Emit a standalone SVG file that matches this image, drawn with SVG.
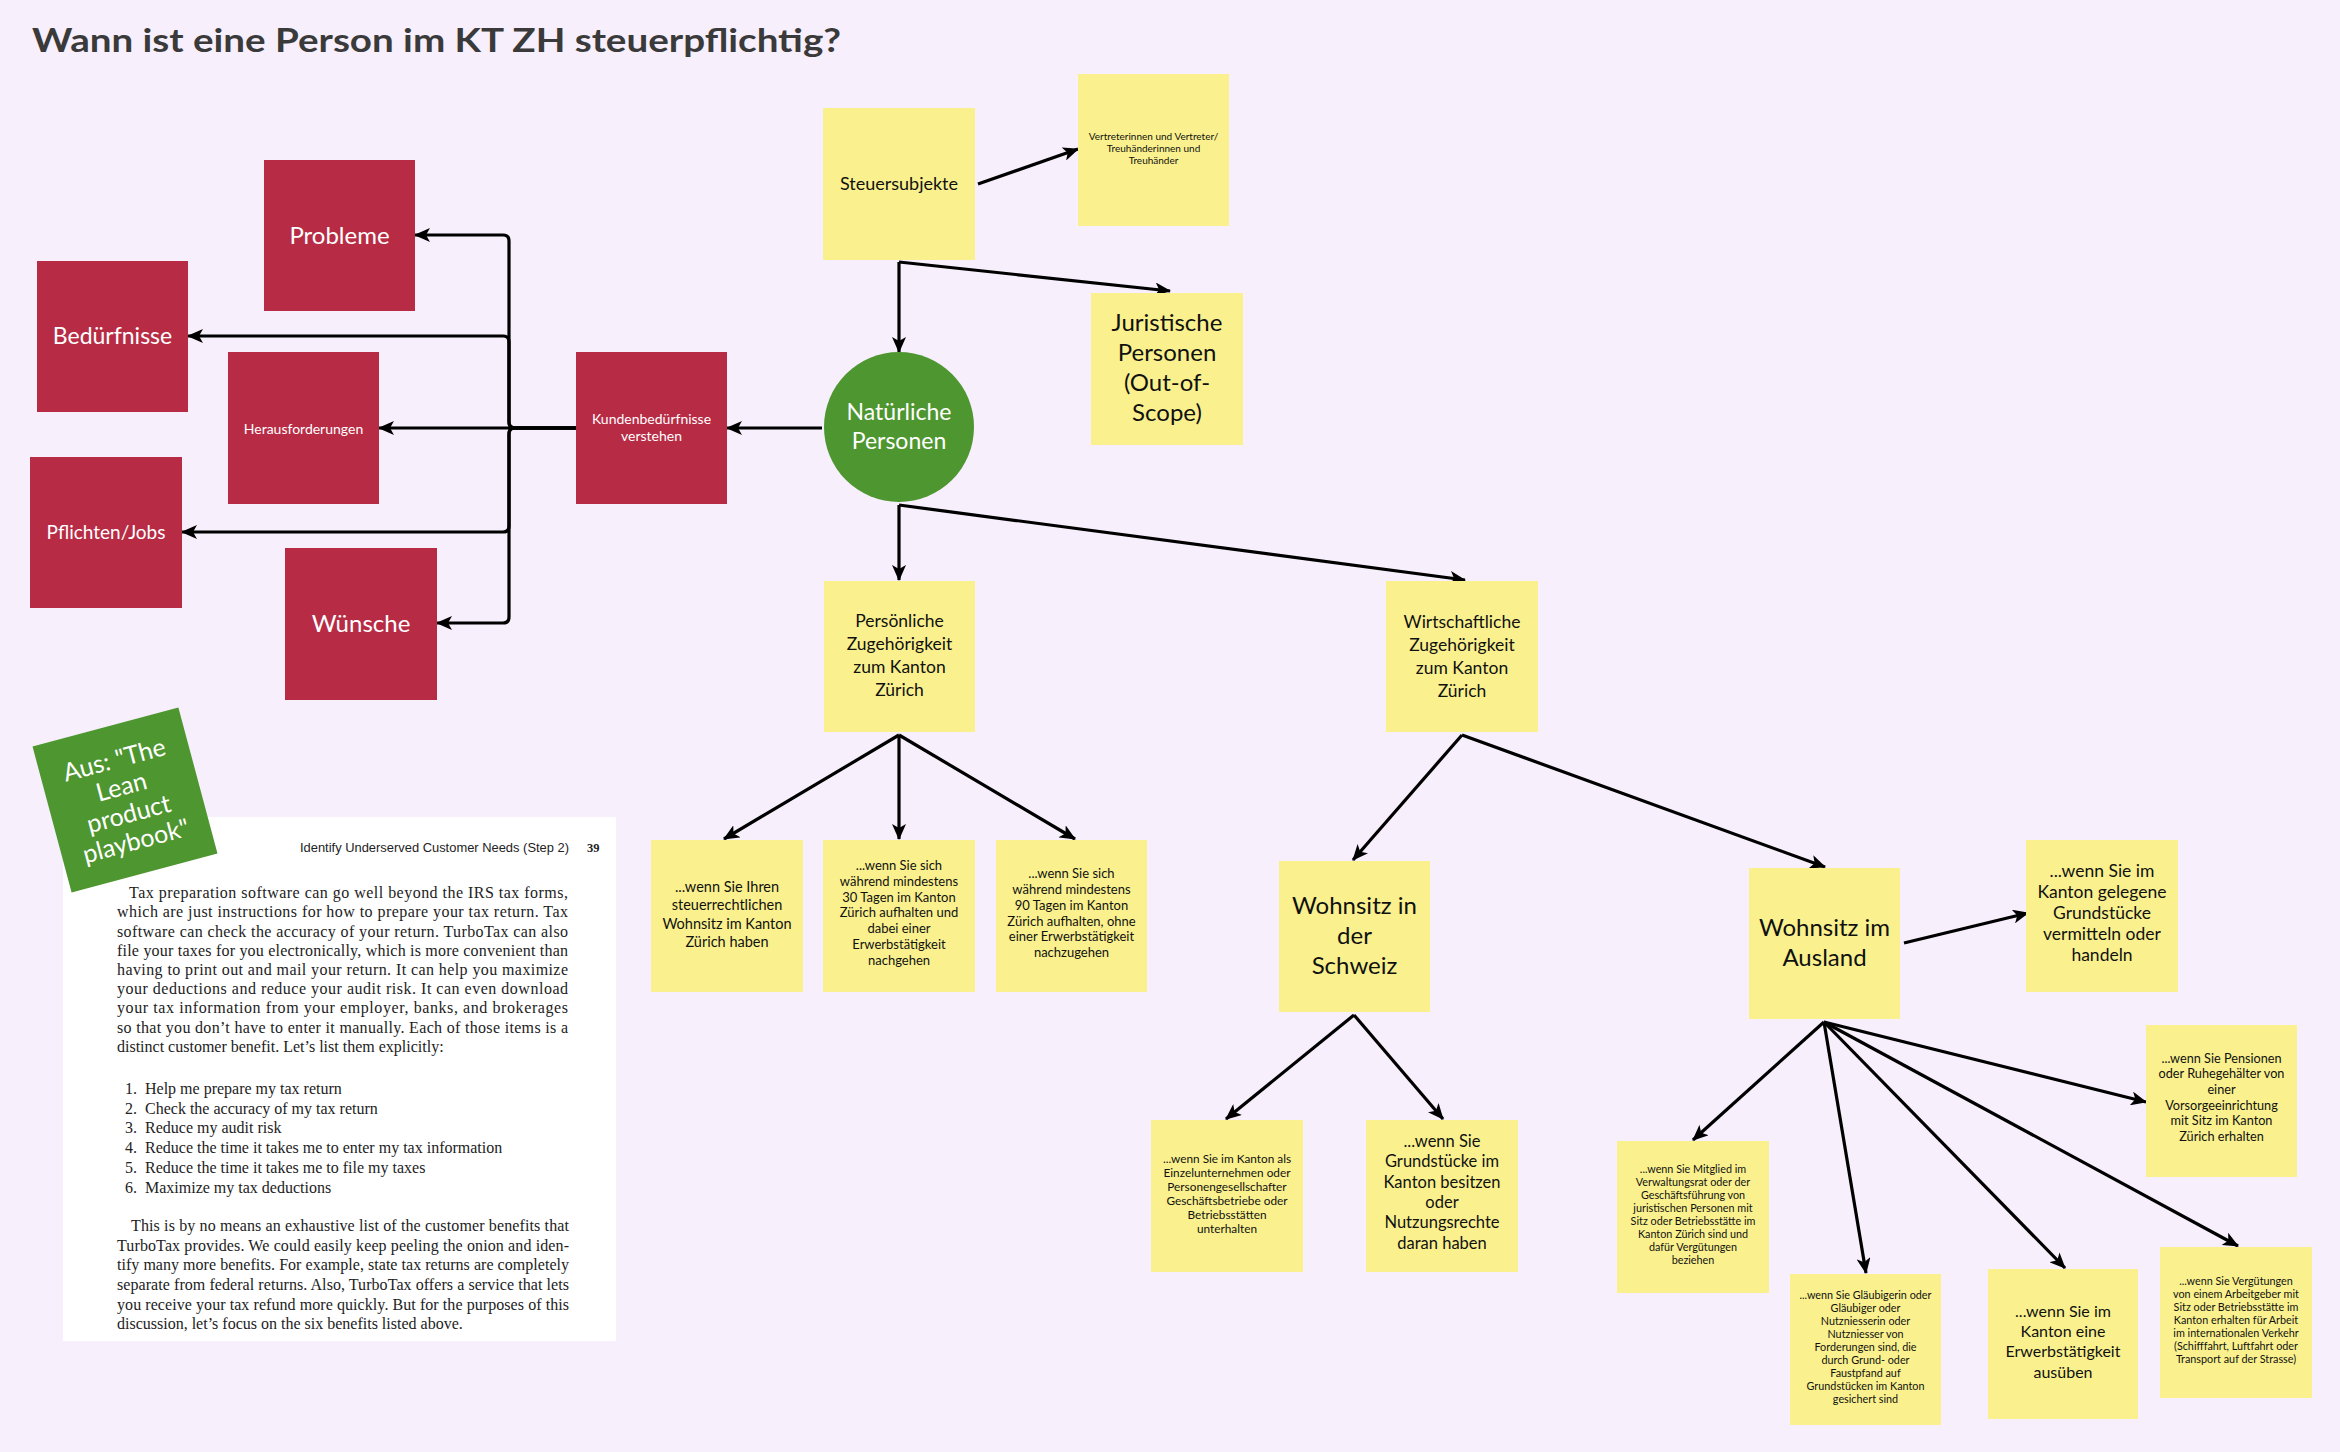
<svg xmlns="http://www.w3.org/2000/svg" width="2340" height="1452" viewBox="0 0 2340 1452">
<defs>
<style>
.bg{fill:#F7EFFC}
.y{fill:#FAF18E}
.r{fill:#B82B45}
.g{fill:#4E962F}
.t{font-family:Lato,"Open Sans","Liberation Sans",sans-serif;fill:#111;text-anchor:middle}
.w{font-family:Lato,"Open Sans","Liberation Sans",sans-serif;fill:#fff;text-anchor:middle}
.c{fill:none;stroke:#000;stroke-width:3.2;marker-end:url(#ah)}
.bk{font-family:"Liberation Serif","Times New Roman",serif;font-size:16px;fill:#222}
</style>
<marker id="ah" markerUnits="userSpaceOnUse" viewBox="0 0 16 14" markerWidth="16" markerHeight="14" refX="15" refY="7" orient="auto">
<path d="M0,0 L16,7 L0,14 L4,7 Z" fill="#000"/>
</marker>
</defs>
<rect class="bg" x="0" y="0" width="2340" height="1452"/>
<text x="32" y="52" font-family="Lato,'Open Sans','Liberation Sans',sans-serif" font-weight="700" font-size="32" fill="#3A3A3A" textLength="809" lengthAdjust="spacingAndGlyphs">Wann ist eine Person im KT ZH steuerpflichtig?</text>

<g id="connectors">
<path class="c" d="M978,184 L1078,149"/>
<path class="c" d="M899,262 L899,352"/>
<path class="c" d="M899,262 L1170,291"/>
<path class="c" d="M822,428 L727,428"/>
<path class="c" d="M576,428 H515 Q509,428 509,422 V241 Q509,235 503,235 H415"/>
<path class="c" d="M576,428 H515 Q509,428 509,422 V342 Q509,336 503,336 H188"/>
<path class="c" d="M576,428 H379"/>
<path class="c" d="M576,428 H515 Q509,428 509,434 V526 Q509,532 503,532 H182"/>
<path class="c" d="M576,428 H515 Q509,428 509,434 V617 Q509,623 503,623 H437"/>
<path class="c" d="M899,505 L899,580"/>
<path class="c" d="M899,505 L1465,580"/>
<path class="c" d="M899,735 L724,839"/>
<path class="c" d="M899,735 L899,839"/>
<path class="c" d="M899,735 L1075,839"/>
<path class="c" d="M1462,735 L1353,860"/>
<path class="c" d="M1462,735 L1825,867"/>
<path class="c" d="M1354,1015 L1226,1119"/>
<path class="c" d="M1354,1015 L1443,1119"/>
<path class="c" d="M1904,943 L2028,913"/>
<path class="c" d="M1824,1022 L1693,1140"/>
<path class="c" d="M1824,1022 L1866,1273"/>
<path class="c" d="M1824,1022 L2065,1268"/>
<path class="c" d="M1824,1022 L2238,1246"/>
<path class="c" d="M1824,1022 L2146,1102"/>
</g>

<g id="steuersubjekte"><rect class="y" x="823" y="108" width="152" height="152"/>
<text class="t" x="899" y="190" font-size="18">Steuersubjekte</text></g>

<g id="vertreter"><rect class="y" x="1078" y="74" width="151" height="152"/>
<text class="t" font-size="10"><tspan x="1153.5" y="140">Vertreterinnen und Vertreter/</tspan><tspan x="1153.5" y="152">Treuhänderinnen und</tspan><tspan x="1153.5" y="164">Treuhänder</tspan></text></g>

<g id="juristische"><rect class="y" x="1091" y="293" width="152" height="152"/>
<text class="t" font-size="24"><tspan x="1167" y="331">Juristische</tspan><tspan x="1167" y="361">Personen</tspan><tspan x="1167" y="391">(Out-of-</tspan><tspan x="1167" y="421">Scope)</tspan></text></g>

<g id="natuerliche"><circle class="g" cx="899" cy="427" r="75"/>
<text class="w" font-size="23"><tspan x="899" y="420">Natürliche</tspan><tspan x="899" y="449">Personen</tspan></text></g>

<g id="kunden"><rect class="r" x="576" y="352" width="151" height="152"/>
<text class="w" font-size="14"><tspan x="651.5" y="424">Kundenbedürfnisse</tspan><tspan x="651.5" y="441">verstehen</tspan></text></g>

<g id="probleme"><rect class="r" x="264" y="160" width="151" height="151"/>
<text class="w" x="339.5" y="244" font-size="24">Probleme</text></g>

<g id="beduerfnisse"><rect class="r" x="37" y="261" width="151" height="151"/>
<text class="w" x="112.5" y="344" font-size="23">Bedürfnisse</text></g>

<g id="herausforderungen"><rect class="r" x="228" y="352" width="151" height="152"/>
<text class="w" x="303.5" y="434" font-size="14">Herausforderungen</text></g>

<g id="pflichten"><rect class="r" x="30" y="457" width="152" height="151"/>
<text class="w" x="106" y="539" font-size="19">Pflichten/Jobs</text></g>

<g id="wuensche"><rect class="r" x="285" y="548" width="152" height="152"/>
<text class="w" x="361" y="632" font-size="24">Wünsche</text></g>

<g id="persoenliche"><rect class="y" x="824" y="581" width="151" height="151"/>
<text class="t" font-size="17.5"><tspan x="899.5" y="627">Persönliche</tspan><tspan x="899.5" y="650">Zugehörigkeit</tspan><tspan x="899.5" y="673">zum Kanton</tspan><tspan x="899.5" y="696">Zürich</tspan></text></g>

<g id="wirtschaftliche"><rect class="y" x="1386" y="581" width="152" height="151"/>
<text class="t" font-size="17.5"><tspan x="1462" y="628">Wirtschaftliche</tspan><tspan x="1462" y="651">Zugehörigkeit</tspan><tspan x="1462" y="674">zum Kanton</tspan><tspan x="1462" y="697">Zürich</tspan></text></g>

<g id="p1"><rect class="y" x="651" y="840" width="152" height="152"/>
<text class="t" font-size="14.5"><tspan x="727" y="892">...wenn Sie Ihren</tspan><tspan x="727" y="910">steuerrechtlichen</tspan><tspan x="727" y="929">Wohnsitz im Kanton</tspan><tspan x="727" y="947">Zürich haben</tspan></text></g>

<g id="p2"><rect class="y" x="823" y="840" width="152" height="152"/>
<text class="t" font-size="13"><tspan x="899" y="870">...wenn Sie sich</tspan><tspan x="899" y="886">während mindestens</tspan><tspan x="899" y="902">30 Tagen im Kanton</tspan><tspan x="899" y="917">Zürich aufhalten und</tspan><tspan x="899" y="933">dabei einer</tspan><tspan x="899" y="949">Erwerbstätigkeit</tspan><tspan x="899" y="965">nachgehen</tspan></text></g>

<g id="p3"><rect class="y" x="996" y="840" width="151" height="152"/>
<text class="t" font-size="13"><tspan x="1071.5" y="878">...wenn Sie sich</tspan><tspan x="1071.5" y="894">während mindestens</tspan><tspan x="1071.5" y="910">90 Tagen im Kanton</tspan><tspan x="1071.5" y="926">Zürich aufhalten, ohne</tspan><tspan x="1071.5" y="941">einer Erwerbstätigkeit</tspan><tspan x="1071.5" y="957">nachzugehen</tspan></text></g>

<g id="schweiz"><rect class="y" x="1279" y="861" width="151" height="151"/>
<text class="t" font-size="24"><tspan x="1354.5" y="914">Wohnsitz in</tspan><tspan x="1354.5" y="944">der</tspan><tspan x="1354.5" y="974">Schweiz</tspan></text></g>

<g id="ausland"><rect class="y" x="1749" y="868" width="151" height="151"/>
<text class="t" font-size="24"><tspan x="1824.5" y="936">Wohnsitz im</tspan><tspan x="1824.5" y="966">Ausland</tspan></text></g>

<g id="s1"><rect class="y" x="1151" y="1120" width="152" height="152"/>
<text class="t" font-size="11.8"><tspan x="1227" y="1163">...wenn Sie im Kanton als</tspan><tspan x="1227" y="1177">Einzelunternehmen oder</tspan><tspan x="1227" y="1191">Personengesellschafter</tspan><tspan x="1227" y="1205">Geschäftsbetriebe oder</tspan><tspan x="1227" y="1219">Betriebsstätten</tspan><tspan x="1227" y="1233">unterhalten</tspan></text></g>

<g id="s2"><rect class="y" x="1366" y="1120" width="152" height="152"/>
<text class="t" font-size="16.5"><tspan x="1442" y="1147">...wenn Sie</tspan><tspan x="1442" y="1167">Grundstücke im</tspan><tspan x="1442" y="1188">Kanton besitzen</tspan><tspan x="1442" y="1208">oder</tspan><tspan x="1442" y="1228">Nutzungsrechte</tspan><tspan x="1442" y="1249">daran haben</tspan></text></g>

<g id="a1"><rect class="y" x="2026" y="840" width="152" height="152"/>
<text class="t" font-size="17.5"><tspan x="2102" y="877">...wenn Sie im</tspan><tspan x="2102" y="898">Kanton gelegene</tspan><tspan x="2102" y="919">Grundstücke</tspan><tspan x="2102" y="940">vermitteln oder</tspan><tspan x="2102" y="961">handeln</tspan></text></g>

<g id="a2"><rect class="y" x="2146" y="1025" width="151" height="152"/>
<text class="t" font-size="12.7"><tspan x="2221.5" y="1063">...wenn Sie Pensionen</tspan><tspan x="2221.5" y="1078">oder Ruhegehälter von</tspan><tspan x="2221.5" y="1094">einer</tspan><tspan x="2221.5" y="1110">Vorsorgeeinrichtung</tspan><tspan x="2221.5" y="1125">mit Sitz im Kanton</tspan><tspan x="2221.5" y="1141">Zürich erhalten</tspan></text></g>

<g id="a3"><rect class="y" x="1617" y="1141" width="152" height="152"/>
<text class="t" font-size="10.8"><tspan x="1693" y="1173">...wenn Sie Mitglied im</tspan><tspan x="1693" y="1186">Verwaltungsrat oder der</tspan><tspan x="1693" y="1199">Geschäftsführung von</tspan><tspan x="1693" y="1212">juristischen Personen mit</tspan><tspan x="1693" y="1225">Sitz oder Betriebsstätte im</tspan><tspan x="1693" y="1238">Kanton Zürich sind und</tspan><tspan x="1693" y="1251">dafür Vergütungen</tspan><tspan x="1693" y="1264">beziehen</tspan></text></g>

<g id="a4"><rect class="y" x="1790" y="1274" width="151" height="151"/>
<text class="t" font-size="10.8"><tspan x="1865.5" y="1299">...wenn Sie Gläubigerin oder</tspan><tspan x="1865.5" y="1312">Gläubiger oder</tspan><tspan x="1865.5" y="1325">Nutzniesserin oder</tspan><tspan x="1865.5" y="1338">Nutzniesser von</tspan><tspan x="1865.5" y="1351">Forderungen sind, die</tspan><tspan x="1865.5" y="1364">durch Grund- oder</tspan><tspan x="1865.5" y="1377">Faustpfand  auf</tspan><tspan x="1865.5" y="1390">Grundstücken im Kanton</tspan><tspan x="1865.5" y="1403">gesichert sind</tspan></text></g>

<g id="a5"><rect class="y" x="1988" y="1269" width="150" height="150"/>
<text class="t" font-size="16"><tspan x="2063" y="1317">...wenn Sie im</tspan><tspan x="2063" y="1337">Kanton eine</tspan><tspan x="2063" y="1357">Erwerbstätigkeit</tspan><tspan x="2063" y="1378">ausüben</tspan></text></g>

<g id="a6"><rect class="y" x="2160" y="1247" width="152" height="151"/>
<text class="t" font-size="10.8"><tspan x="2236" y="1285">...wenn Sie Vergütungen</tspan><tspan x="2236" y="1298">von einem Arbeitgeber mit</tspan><tspan x="2236" y="1311">Sitz oder Betriebsstätte im</tspan><tspan x="2236" y="1324">Kanton erhalten für Arbeit</tspan><tspan x="2236" y="1337">im internationalen Verkehr</tspan><tspan x="2236" y="1350">(Schifffahrt, Luftfahrt oder</tspan><tspan x="2236" y="1363">Transport auf der Strasse)</tspan></text></g>

<g id="book">
<rect x="63" y="817" width="553" height="524" fill="#fff"/>
<text x="300" y="852" font-family="'Liberation Sans',Arial,sans-serif" font-size="12" fill="#222" textLength="269" lengthAdjust="spacingAndGlyphs">Identify Underserved Customer Needs (Step 2)</text>
<text x="587" y="852" font-family="'Liberation Serif',serif" font-size="12.5" font-weight="700" fill="#222">39</text>
<text class="bk" x="129" y="898" textLength="439" lengthAdjust="spacing">Tax preparation software can go well beyond the IRS tax forms,</text>
<text class="bk" x="117" y="917" textLength="451" lengthAdjust="spacing">which are just instructions for how to prepare your tax return. Tax</text>
<text class="bk" x="117" y="936.5" textLength="451" lengthAdjust="spacing">software can check the accuracy of your return. TurboTax can also</text>
<text class="bk" x="117" y="955.5" textLength="451" lengthAdjust="spacing">file your taxes for you electronically, which is more convenient than</text>
<text class="bk" x="117" y="975" textLength="451" lengthAdjust="spacing">having to print out and mail your return. It can help you maximize</text>
<text class="bk" x="117" y="994" textLength="451" lengthAdjust="spacing">your deductions and reduce your audit risk. It can even download</text>
<text class="bk" x="117" y="1013" textLength="451" lengthAdjust="spacing">your tax information from your employer, banks, and brokerages</text>
<text class="bk" x="117" y="1032.5" textLength="451" lengthAdjust="spacing">so that you don’t have to enter it manually. Each of those items is a</text>
<text class="bk" x="117" y="1052">distinct customer benefit. Let’s list them explicitly:</text>
<text class="bk" x="125" y="1094">1.</text><text class="bk" x="145" y="1094">Help me prepare my tax return</text>
<text class="bk" x="125" y="1113.5">2.</text><text class="bk" x="145" y="1113.5">Check the accuracy of my tax return</text>
<text class="bk" x="125" y="1133">3.</text><text class="bk" x="145" y="1133">Reduce my audit risk</text>
<text class="bk" x="125" y="1153">4.</text><text class="bk" x="145" y="1153">Reduce the time it takes me to enter my tax information</text>
<text class="bk" x="125" y="1173">5.</text><text class="bk" x="145" y="1173">Reduce the time it takes me to file my taxes</text>
<text class="bk" x="125" y="1193">6.</text><text class="bk" x="145" y="1193">Maximize my tax deductions</text>
<text class="bk" x="131" y="1231" textLength="438" lengthAdjust="spacing">This is by no means an exhaustive list of the customer benefits that</text>
<text class="bk" x="117" y="1250.5" textLength="452" lengthAdjust="spacing">TurboTax provides. We could easily keep peeling the onion and iden-</text>
<text class="bk" x="117" y="1270" textLength="452" lengthAdjust="spacing">tify many more benefits. For example, state tax returns are completely</text>
<text class="bk" x="117" y="1290" textLength="452" lengthAdjust="spacing">separate from federal returns. Also, TurboTax offers a service that lets</text>
<text class="bk" x="117" y="1309.5" textLength="452" lengthAdjust="spacing">you receive your tax refund more quickly. But for the purposes of this</text>
<text class="bk" x="117" y="1329">discussion, let’s focus on the six benefits listed above.</text>
</g>

<g id="quelle" transform="translate(125,800) rotate(-15)">
<rect class="g" x="-75.5" y="-75.5" width="151" height="151"/>
<text class="w" font-size="25"><tspan x="0" y="-33">Aus: "The</tspan><tspan x="0" y="-5">Lean</tspan><tspan x="0" y="23">product</tspan><tspan x="0" y="51">playbook"</tspan></text>
</g>
</svg>
